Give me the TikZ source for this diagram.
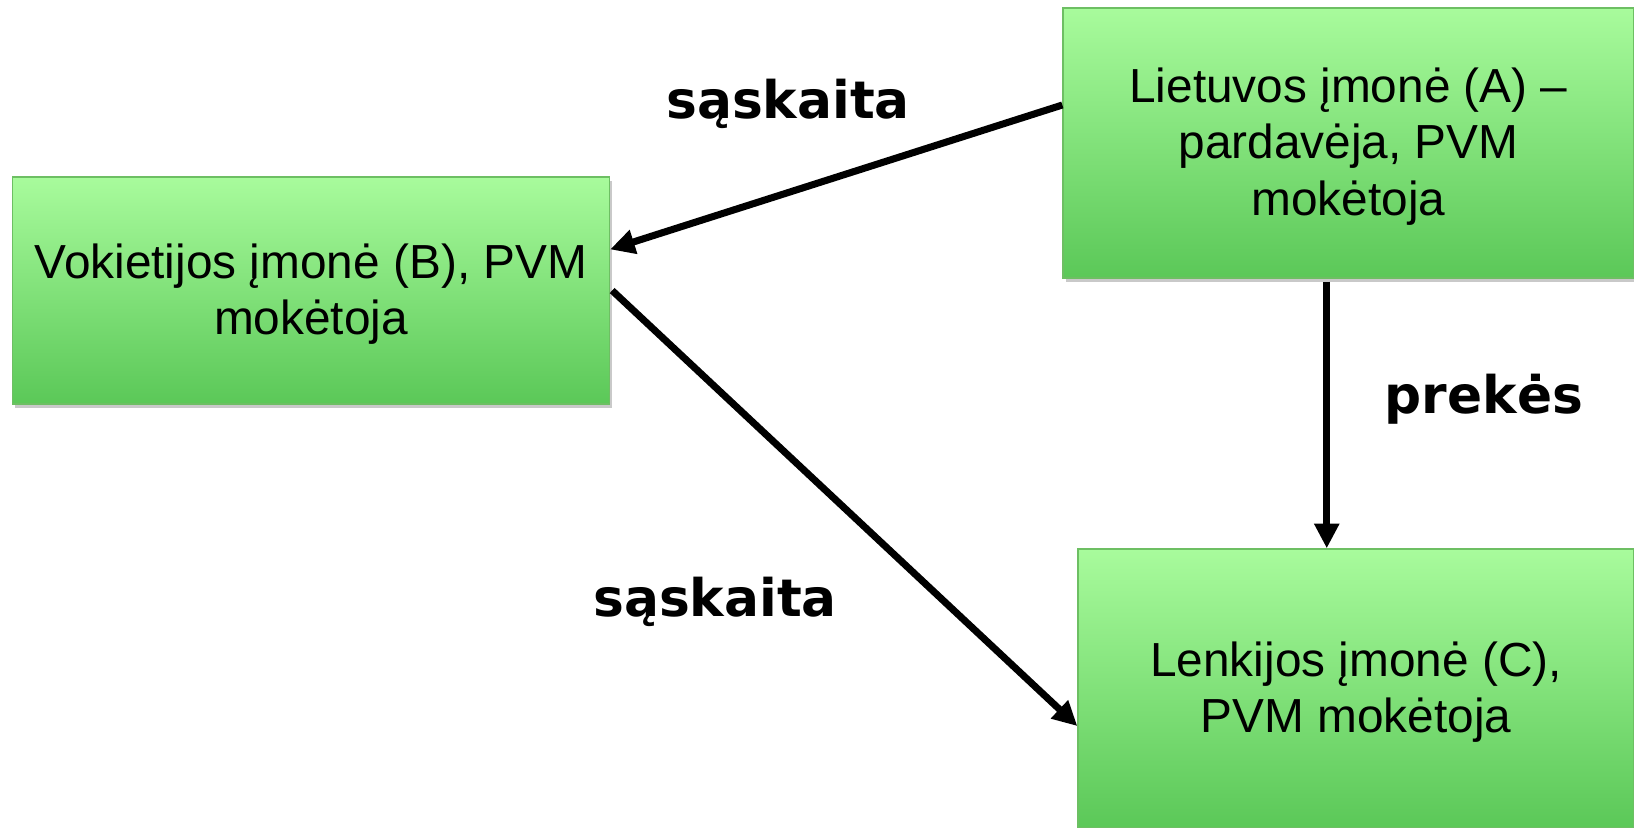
\documentclass[tikz,border=0pt]{standalone}
\usepackage{fontspec}
\setmainfont{Liberation Sans}
\newfontfamily\lblfont{DejaVu Sans}
\usetikzlibrary{arrows.meta,calc,shadows}
\definecolor{boxtop}{HTML}{A8FB9C}
\definecolor{boxbot}{HTML}{5BC858}
\definecolor{boxline}{HTML}{6DBF63}
\newcommand{\lowtext}[1]{\raisebox{-2.6pt}[\height][\depth]{\begin{tabular}{@{}c@{}}#1\end{tabular}}}
\tikzset{
  firm/.style={draw=boxline, line width=0.8pt, top color=boxtop, bottom color=boxbot,
    align=center, inner sep=0pt, font=\fontsize{27.2}{32.3}\selectfont,
    drop shadow={shadow xshift=1.5pt, shadow yshift=-2.5pt, opacity=0.35, fill=black!60}},
  flow/.style={line width=4pt, -{Triangle[length=14pt,width=13.5pt]}},
  lbl/.style={font=\lblfont\bfseries\fontsize{29.5}{34}\selectfont}
}
\begin{document}
\begin{tikzpicture}[x=0.02cm,y=-0.02cm]
\useasboundingbox (0,0) rectangle (1634,828);
\clip (0,0) rectangle (1634,828);
\fill[white] (0,0) rectangle (1634,828);
\node[firm, minimum width=11.42cm, minimum height=5.4cm] (A) at (1348.5,143)
  {\lowtext{Lietuvos įmonė (A) –\\pardavėja, PVM\\mokėtoja}};
\node[firm, minimum width=11.94cm, minimum height=4.54cm] (B) at (311,290.5)
  {\lowtext{Vokietijos įmonė (B), PVM\\mokėtoja}};
\node[firm, minimum width=11.12cm, minimum height=5.58cm] (C) at (1356,688.5)
  {\lowtext{Lenkijos įmonė (C),\\PVM mokėtoja}};
\coordinate (aout) at ($(A.north west)!0.36!(A.south west)$);
\coordinate (bin) at ($(B.north east)!0.32!(B.south east)$);
\coordinate (cin) at ($(C.north west)!0.634!(C.south west)$);
\coordinate (adown) at ($(A.south west)!0.462!(A.south east)+(0,3)$);
\draw[flow] (aout) -- (bin);
\draw[flow] ($(B.east)+(2,0)$) -- (cin);
\draw[flow] (adown) -- (adown |- C.north);
\node[lbl] (l1) at (788,104) {sąskaita};
\node[lbl] (l2) at (715,602) {sąskaita};
\node[lbl] (l3) at (1484,399) {prekės};
\end{tikzpicture}
\end{document}
